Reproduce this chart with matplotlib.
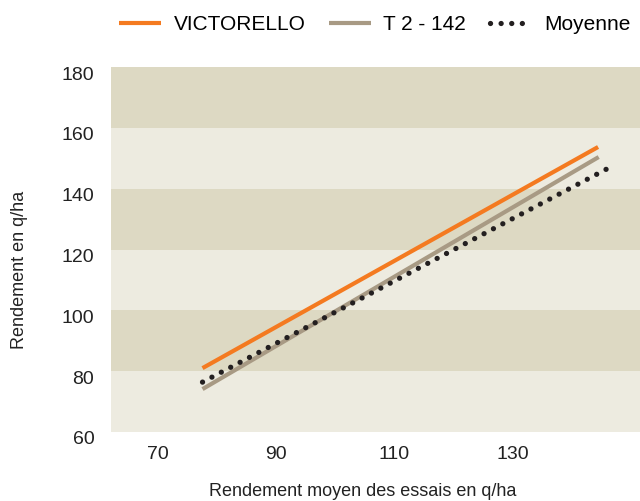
import numpy as np
import matplotlib
matplotlib.use("Agg")
import matplotlib.pyplot as plt
import matplotlib.transforms as mtransforms

plt.rcParams['font.family'] = ['Liberation Sans', 'DejaVu Sans']

# data (x = rendement moyen, y = rendement)
victorello_x = [77.5, 144.5]
victorello_y = [81.0, 153.7]
t2_x = [77.5, 144.6]
t2_y = [74.1, 150.4]
moyenne_x = [77.5, 146.0]
moyenne_y = [76.4, 146.5]

x_ticks = [70, 90, 110, 130]
y_ticks = [60, 80, 100, 120, 140, 160, 180]

c_orange = "#F47A20"
c_grey = "#A89A84"
c_dots = "#231F20"
band_dark = "#DDD9C3"
band_light = "#EDEBE0"

fig = plt.figure(figsize=(6.4, 5.01), dpi=100)
ax = fig.add_axes([111 / 640, 1 - 432 / 501, 1 - 111 / 640, (432 - 67) / 501])

# alternating horizontal bands
for i in range(len(y_ticks) - 1):
    col = band_light if i % 2 == 0 else band_dark
    ax.axhspan(y_ticks[i], y_ticks[i + 1], color=col, lw=0, zorder=0)

ax.plot(victorello_x, victorello_y, color=c_orange, lw=3, solid_capstyle='butt',
        label="VICTORELLO", zorder=3)
ax.plot(t2_x, t2_y, color=c_grey, lw=3, solid_capstyle='butt',
        label="T 2 - 142", zorder=2)
ax.plot(moyenne_x, moyenne_y, color=c_dots, lw=3.8, linestyle=(0, (0.01, 2.0)),
        dash_capstyle='round', label="Moyenne", zorder=4)

ax.set_xlim(62.0, 151.6)
ax.set_ylim(60, 180)
ax.set_xticks(x_ticks)
ax.set_yticks(y_ticks)
for s in ax.spines.values():
    s.set_visible(False)
ax.tick_params(axis='both', length=0, labelsize=14, colors="#222222")
ax.tick_params(axis='y', pad=12)
ax.tick_params(axis='x', pad=10)

# y tick labels sit a bit below their band edges in the reference
offset = mtransforms.ScaledTranslation(0, -6 / 100, fig.dpi_scale_trans)
for lab in ax.get_yticklabels():
    lab.set_transform(lab.get_transform() + offset)

fig.text(363 / 640, 1 - 492 / 501, "Rendement moyen des essais en q/ha",
         ha='center', va='center', fontsize=13, color="#222222")
fig.text(20 / 640, 1 - 270 / 501, "Rendement en q/ha", rotation=90,
         ha='center', va='center', fontsize=13, color="#222222")

fig.legend(loc='center', bbox_to_anchor=(375 / 640, 1 - 25 / 501), ncol=3,
           frameon=False, fontsize=15, handlelength=2.0, handletextpad=0.6,
           columnspacing=1.15)

fig.savefig("out.png", dpi=100, facecolor="white")
